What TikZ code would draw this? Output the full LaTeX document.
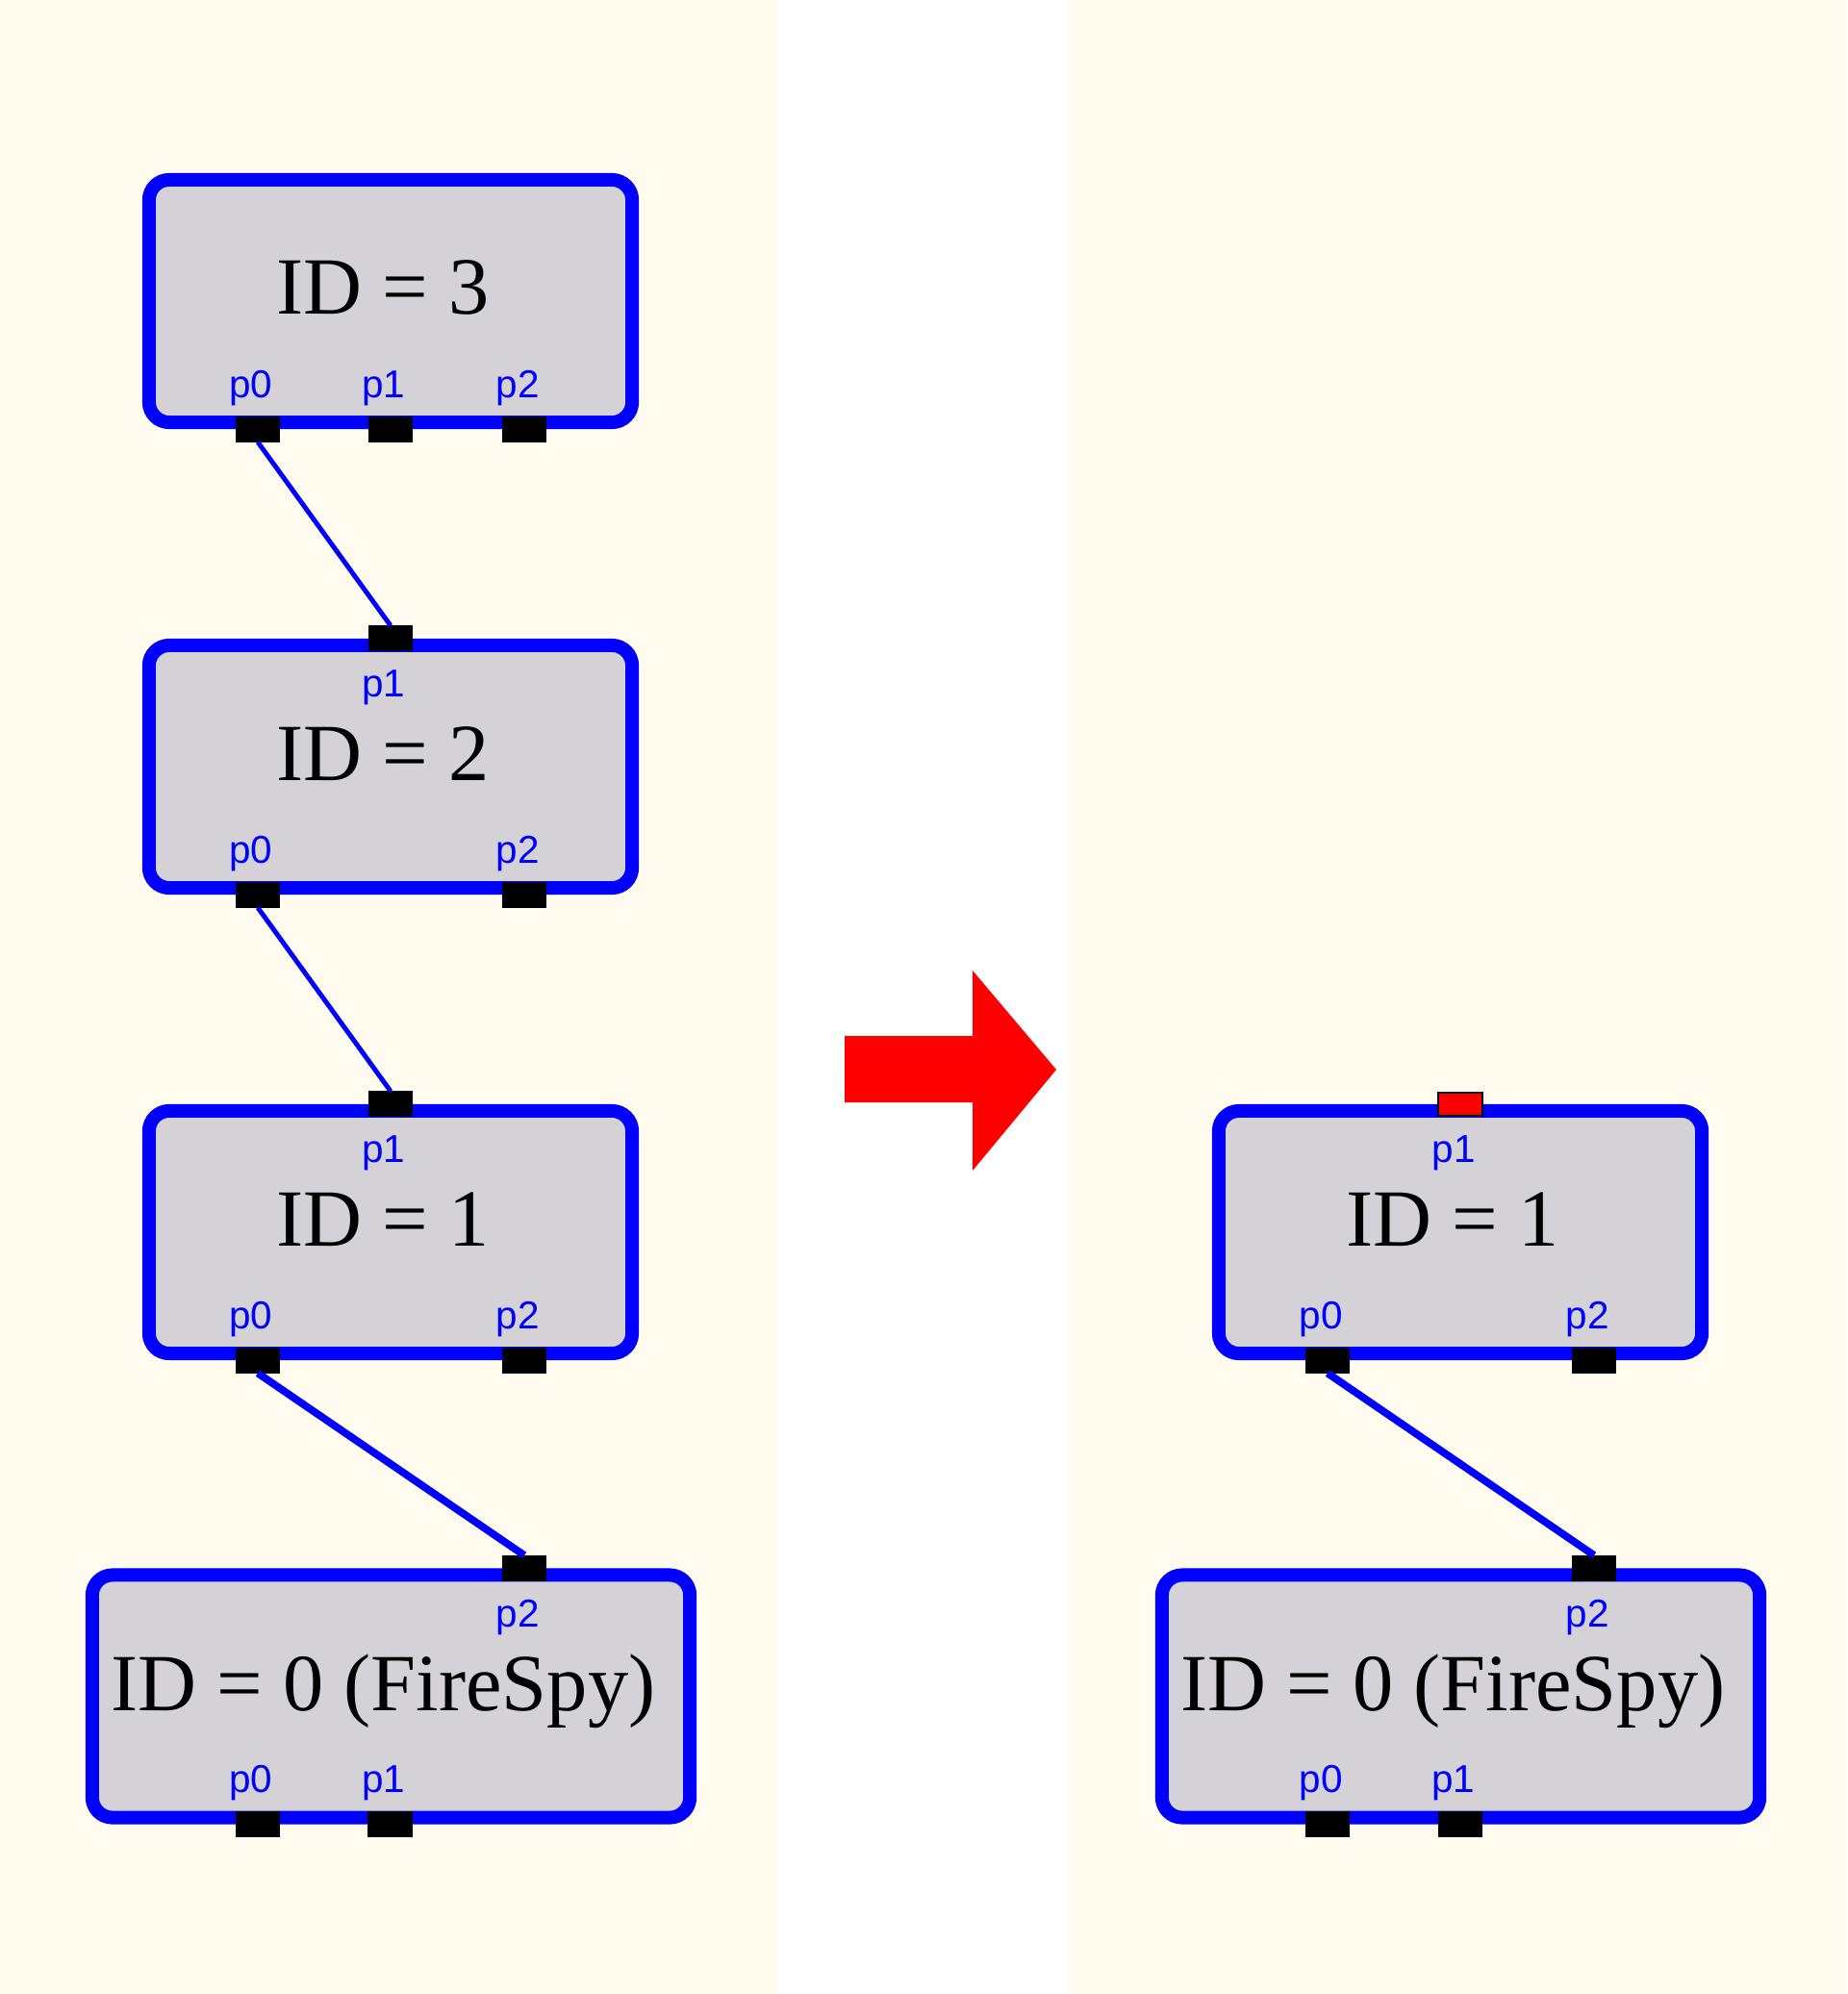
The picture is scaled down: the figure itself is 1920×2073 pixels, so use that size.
\documentclass[tikz,border=0pt]{standalone}
\usepackage{fontspec}
\setmainfont{Liberation Serif}
\newfontfamily\puertofont{Liberation Sans}
\usetikzlibrary{calc}

\definecolor{crema}{RGB}{255,251,238}
\definecolor{gris}{RGB}{212,210,214}
\definecolor{azul}{RGB}{0,0,255}
\definecolor{rojo}{RGB}{255,0,0}

\begin{document}
\begin{tikzpicture}[x=0.01cm,y=-0.01cm,
    caja/.style={draw=azul,line width=0.14cm,fill=gris,rounded corners=0.21cm,
                 inner sep=0pt,minimum height=2.52cm},
    puerto/.style={fill=black,inner sep=0pt,outer sep=0pt,minimum width=0.46cm,minimum height=0.27cm},
    etiq/.style={anchor=base,text=azul,inner sep=0pt,font=\puertofont\fontsize{11.5}{12}\selectfont},
    texto/.style={anchor=base,inner sep=0pt,font=\fontsize{24}{28}\selectfont},
    enlace/.style={draw=azul,line width=1.4pt}]
    % Fondo y margenes
    \useasboundingbox (0,0) rectangle (1920,2073);
    \fill[crema] (0,0) rectangle (808,2073);
    \fill[crema] (1111,0) rectangle (1920,2073);

    % Cajas de la izquierda
    \node[caja,minimum width=5.02cm] (c3) at (406,313) {};
    \node[caja,minimum width=5.02cm] (c2) at (406,797) {};
    \node[caja,minimum width=5.02cm] (c1) at (406,1281) {};
    \node[caja,minimum width=6.21cm] (c0) at (406.5,1763.5) {};
    \node[texto] (t3) at (398,327) {ID = 3};
    \node[texto] (t2) at (398,811) {ID = 2};
    \node[texto] (t1) at (398,1295) {ID = 1};
    \node[texto] (t0) at (398.5,1778) {ID = 0 (FireSpy)};

    % Cajas de la derecha
    \node[caja,minimum width=5.02cm] (d1) at (1518,1281) {};
    \node[caja,minimum width=6.21cm] (d0) at (1518.5,1763.5) {};
    \node[texto] (s1) at (1510,1295) {ID = 1};
    \node[texto] (s0) at (1510.5,1778) {ID = 0 (FireSpy)};

    % Puertos
    \node[puerto] (c3p0) at ($(c3.south)+(-138,0)$) {};
    \node[puerto] (c3p1) at (c3.south) {};
    \node[puerto] (c3p2) at ($(c3.south)+(139,0)$) {};
    \node[puerto] (c2p1) at (c2.north) {};
    \node[puerto] (c2p0) at ($(c2.south)+(-138,0)$) {};
    \node[puerto] (c2p2) at ($(c2.south)+(139,0)$) {};
    \node[puerto] (c1p1) at (c1.north) {};
    \node[puerto] (c1p0) at ($(c1.south)+(-138,0)$) {};
    \node[puerto] (c1p2) at ($(c1.south)+(139,0)$) {};
    \node[puerto] (c0p2) at ($(c0.north)+(138.5,0)$) {};
    \node[puerto] (c0p0) at ($(c0.south)+(-138.5,0)$) {};
    \node[puerto] (c0p1) at ($(c0.south)+(-1,0)$) {};
    \node[puerto,fill=rojo,draw=black,line width=0.6pt,minimum height=0.24cm] (d1p1) at (d1.north) {};
    \node[puerto] (d1p0) at ($(d1.south)+(-138,0)$) {};
    \node[puerto] (d1p2) at ($(d1.south)+(139,0)$) {};
    \node[puerto] (d0p2) at ($(d0.north)+(138.5,0)$) {};
    \node[puerto] (d0p0) at ($(d0.south)+(-138.5,0)$) {};
    \node[puerto] (d0p1) at ($(d0.south)+(-1,0)$) {};

    % Etiquetas de los puertos
    \node[etiq] (e3p0) at ($(c3p0)+(-7,-33)$) {p0};
    \node[etiq] (e3p1) at ($(c3p1)+(-7,-33)$) {p1};
    \node[etiq] (e3p2) at ($(c3p2)+(-7,-33)$) {p2};
    \node[etiq] (e2p1) at ($(c2p1)+(-7,61)$) {p1};
    \node[etiq] (e2p0) at ($(c2p0)+(-7,-33)$) {p0};
    \node[etiq] (e2p2) at ($(c2p2)+(-7,-33)$) {p2};
    \node[etiq] (e1p1) at ($(c1p1)+(-7,61)$) {p1};
    \node[etiq] (e1p0) at ($(c1p0)+(-7,-33)$) {p0};
    \node[etiq] (e1p2) at ($(c1p2)+(-7,-33)$) {p2};
    \node[etiq] (e0p2) at ($(c0p2)+(-7,61)$) {p2};
    \node[etiq] (e0p0) at ($(c0p0)+(-7,-33)$) {p0};
    \node[etiq] (e0p1) at ($(c0p1)+(-7,-33)$) {p1};
    \node[etiq] (f1p1) at ($(d1p1)+(-7,61)$) {p1};
    \node[etiq] (f1p0) at ($(d1p0)+(-7,-33)$) {p0};
    \node[etiq] (f1p2) at ($(d1p2)+(-7,-33)$) {p2};
    \node[etiq] (f0p2) at ($(d0p2)+(-7,61)$) {p2};
    \node[etiq] (f0p0) at ($(d0p0)+(-7,-33)$) {p0};
    \node[etiq] (f0p1) at ($(d0p1)+(-7,-33)$) {p1};

    % Enlaces
    \draw[enlace] (c3p0.south) -- (c2p1.north);
    \draw[enlace] (c2p0.south) -- (c1p1.north);
    \draw[enlace,line width=2.2pt] (c1p0.south) -- (c0p2.north);
    \draw[enlace,line width=2.2pt] (d1p0.south) -- (d0p2.north);

    % Flecha roja
    \fill[rojo] (878,1077) -- (1011,1077) -- (1011,1009) -- (1098,1112)
        -- (1011,1217) -- (1011,1146) -- (878,1146) -- cycle;
\end{tikzpicture}
\end{document}
